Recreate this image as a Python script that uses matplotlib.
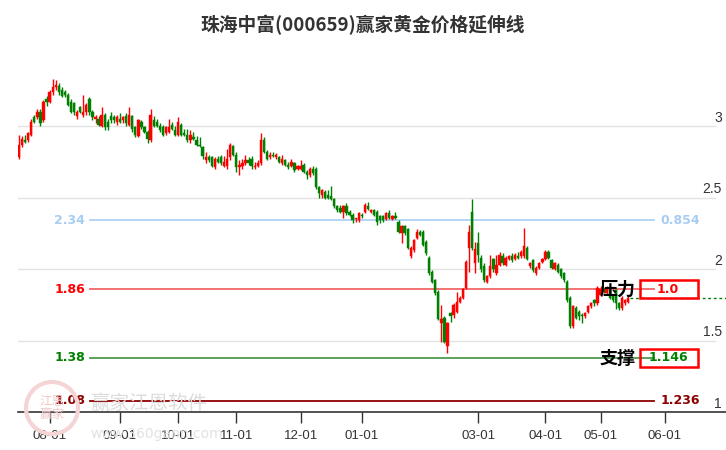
import numpy as np
import matplotlib
matplotlib.use('Agg')
import matplotlib.pyplot as plt
from matplotlib.patches import Rectangle, Circle

plt.rcParams['font.family'] = ['Noto Sans CJK SC', 'DejaVu Sans']

title = '珠海中富(000659)赢家黄金价格延伸线'

# daily candles (open / high / low / close)
opens = [
    2.78, 2.87, 2.90, 2.90, 2.94, 3.06, 3.06, 3.10, 3.04, 3.19,
    3.17, 3.24, 3.27, 3.28, 3.25, 3.24, 3.22, 3.17, 3.16, 3.07,
    3.13, 3.08, 3.10, 3.19, 3.10, 3.05, 3.05, 3.00, 3.08, 3.03,
    3.07, 3.06, 3.03, 3.05, 3.04, 3.07, 3.01, 3.07, 2.99, 2.93,
    3.03, 2.99, 2.96, 2.90, 3.04, 3.03, 3.00, 2.99, 2.95, 2.96,
    3.01, 2.97, 2.94, 3.01, 2.95, 2.94, 2.90, 2.92, 2.90, 2.87,
    2.85, 2.76, 2.78, 2.78, 2.71, 2.77, 2.78, 2.72, 2.72, 2.78,
    2.86, 2.80, 2.71, 2.72, 2.74, 2.76, 2.77, 2.71, 2.72, 2.74,
    2.90, 2.82, 2.78, 2.80, 2.78, 2.78, 2.74, 2.76, 2.73, 2.72,
    2.74, 2.70, 2.70, 2.73, 2.68, 2.66, 2.70, 2.70, 2.57, 2.52,
    2.54, 2.52, 2.51, 2.49, 2.44, 2.43, 2.40, 2.44, 2.40, 2.38,
    2.35, 2.34, 2.38, 2.40, 2.44, 2.40, 2.41, 2.40, 2.37, 2.37,
    2.35, 2.39, 2.35, 2.37, 2.33, 2.25, 2.30, 2.28, 2.09, 2.13,
    2.22, 2.26, 2.26, 2.19, 2.08, 1.98, 1.92, 1.84, 1.62, 1.66,
    1.46, 1.69, 1.68, 1.70, 1.77, 1.80, 1.87, 2.15, 2.40, 2.04,
    2.18, 2.08, 2.02, 1.91, 1.95, 2.07, 1.97, 2.03, 2.09, 2.03,
    2.07, 2.09, 2.07, 2.09, 2.09, 2.09, 2.15, 2.02, 2.06, 1.97,
    2.01, 2.05, 2.07, 2.12, 2.06, 2.00, 2.03, 2.00, 1.97, 1.91,
    1.80, 1.60, 1.73, 1.70, 1.68, 1.67, 1.70, 1.74, 1.78, 1.76,
    1.82, 1.86, 1.83, 1.85, 1.81, 1.85, 1.76, 1.73, 1.76, 1.77,
]
highs = [
    2.94, 2.93, 2.94, 2.96, 3.05, 3.08, 3.12, 3.12, 3.18, 3.21,
    3.25, 3.33, 3.32, 3.30, 3.27, 3.25, 3.23, 3.19, 3.17, 3.11,
    3.14, 3.22, 3.16, 3.20, 3.11, 3.08, 3.07, 3.13, 3.09, 3.05,
    3.10, 3.08, 3.08, 3.09, 3.07, 3.09, 3.13, 3.08, 3.00, 3.05,
    3.04, 3.00, 2.97, 3.12, 3.07, 3.05, 3.02, 3.01, 3.00, 3.05,
    3.03, 3.00, 3.06, 3.02, 2.98, 2.98, 2.97, 2.96, 2.93, 2.92,
    2.86, 2.82, 2.80, 2.79, 2.78, 2.79, 2.80, 2.79, 2.84, 2.88,
    2.87, 2.82, 2.76, 2.77, 2.80, 2.78, 2.79, 2.75, 2.76, 2.95,
    2.92, 2.83, 2.82, 2.82, 2.81, 2.79, 2.80, 2.77, 2.75, 2.77,
    2.75, 2.73, 2.76, 2.74, 2.69, 2.71, 2.72, 2.71, 2.58, 2.56,
    2.55, 2.55, 2.58, 2.50, 2.45, 2.45, 2.45, 2.46, 2.41, 2.39,
    2.36, 2.40, 2.39, 2.46, 2.47, 2.42, 2.42, 2.41, 2.38, 2.38,
    2.40, 2.41, 2.38, 2.40, 2.34, 2.31, 2.31, 2.29, 2.16, 2.21,
    2.28, 2.27, 2.27, 2.20, 2.09, 1.99, 1.93, 1.85, 1.75, 1.67,
    1.63, 1.70, 1.76, 1.84, 1.81, 1.87, 2.06, 2.31, 2.49, 2.19,
    2.26, 2.10, 2.04, 1.96, 2.10, 2.08, 2.10, 2.12, 2.11, 2.09,
    2.10, 2.11, 2.11, 2.12, 2.13, 2.29, 2.16, 2.05, 2.07, 2.02,
    2.05, 2.08, 2.13, 2.13, 2.07, 2.05, 2.04, 2.01, 1.98, 1.92,
    1.81, 1.75, 1.74, 1.71, 1.69, 1.70, 1.75, 1.77, 1.79, 1.88,
    1.88, 1.87, 1.88, 1.86, 1.82, 1.86, 1.77, 1.81, 1.79, 1.81,
]
lows = [
    2.77, 2.85, 2.88, 2.89, 2.93, 3.02, 3.05, 3.00, 3.03, 3.14,
    3.16, 3.22, 3.25, 3.22, 3.20, 3.20, 3.14, 3.09, 3.08, 3.05,
    3.09, 3.06, 3.08, 3.08, 3.04, 3.02, 3.00, 2.99, 2.97, 2.97,
    3.02, 3.02, 3.01, 3.02, 3.02, 3.00, 3.00, 2.96, 2.92, 2.92,
    2.98, 2.95, 2.88, 2.89, 2.99, 2.99, 2.96, 2.93, 2.94, 2.95,
    2.97, 2.93, 2.93, 2.93, 2.93, 2.89, 2.88, 2.90, 2.86, 2.85,
    2.77, 2.74, 2.75, 2.71, 2.70, 2.74, 2.73, 2.71, 2.70, 2.76,
    2.79, 2.68, 2.66, 2.70, 2.73, 2.73, 2.70, 2.70, 2.71, 2.73,
    2.81, 2.76, 2.77, 2.78, 2.77, 2.74, 2.73, 2.72, 2.70, 2.71,
    2.68, 2.69, 2.69, 2.67, 2.63, 2.64, 2.66, 2.56, 2.50, 2.50,
    2.49, 2.49, 2.48, 2.43, 2.40, 2.39, 2.36, 2.38, 2.37, 2.32,
    2.33, 2.33, 2.36, 2.39, 2.41, 2.39, 2.37, 2.31, 2.32, 2.33,
    2.34, 2.35, 2.34, 2.35, 2.25, 2.18, 2.24, 2.14, 2.08, 2.12,
    2.21, 2.23, 2.16, 2.10, 1.96, 1.90, 1.82, 1.64, 1.49, 1.48,
    1.41, 1.63, 1.66, 1.69, 1.76, 1.79, 1.86, 1.98, 2.13, 1.97,
    2.05, 1.98, 1.91, 1.90, 1.94, 1.98, 1.96, 2.02, 2.03, 2.02,
    2.06, 2.05, 2.06, 2.07, 2.08, 2.08, 2.06, 2.01, 1.98, 1.96,
    2.00, 2.04, 2.06, 2.07, 2.00, 1.99, 1.97, 1.94, 1.91, 1.77,
    1.59, 1.59, 1.65, 1.64, 1.62, 1.66, 1.69, 1.73, 1.74, 1.75,
    1.81, 1.83, 1.82, 1.79, 1.77, 1.72, 1.71, 1.71, 1.75, 1.76,
]
closes = [
    2.87, 2.91, 2.89, 2.95, 3.03, 3.03, 3.10, 3.02, 3.17, 3.17,
    3.24, 3.27, 3.29, 3.24, 3.21, 3.22, 3.15, 3.10, 3.10, 3.10,
    3.10, 3.10, 3.15, 3.10, 3.06, 3.06, 3.01, 3.08, 2.99, 2.99,
    3.04, 3.04, 3.06, 3.03, 3.06, 3.02, 3.08, 2.98, 2.94, 3.04,
    2.99, 2.96, 2.91, 3.08, 3.00, 3.00, 2.97, 2.94, 2.99, 2.99,
    2.98, 2.94, 3.03, 2.94, 2.94, 2.90, 2.94, 2.91, 2.87, 2.86,
    2.79, 2.78, 2.76, 2.72, 2.77, 2.75, 2.74, 2.75, 2.77, 2.87,
    2.80, 2.71, 2.73, 2.74, 2.76, 2.74, 2.72, 2.72, 2.74, 2.90,
    2.82, 2.77, 2.80, 2.79, 2.80, 2.75, 2.77, 2.73, 2.71, 2.75,
    2.69, 2.72, 2.72, 2.68, 2.66, 2.70, 2.67, 2.57, 2.53, 2.55,
    2.50, 2.50, 2.49, 2.44, 2.41, 2.40, 2.44, 2.39, 2.38, 2.34,
    2.35, 2.39, 2.37, 2.45, 2.42, 2.41, 2.38, 2.33, 2.34, 2.34,
    2.39, 2.36, 2.37, 2.36, 2.26, 2.30, 2.25, 2.15, 2.15, 2.20,
    2.26, 2.24, 2.17, 2.11, 1.97, 1.91, 1.83, 1.65, 1.65, 1.49,
    1.62, 1.67, 1.75, 1.77, 1.80, 1.86, 2.05, 2.26, 2.15, 2.14,
    2.10, 2.00, 1.92, 1.95, 2.02, 2.00, 2.03, 2.10, 2.04, 2.08,
    2.09, 2.06, 2.10, 2.08, 2.12, 2.16, 2.07, 2.04, 1.99, 2.01,
    2.04, 2.07, 2.12, 2.08, 2.01, 2.04, 1.98, 1.95, 1.92, 1.78,
    1.60, 1.74, 1.66, 1.67, 1.67, 1.69, 1.74, 1.76, 1.76, 1.87,
    1.86, 1.84, 1.87, 1.80, 1.78, 1.76, 1.73, 1.80, 1.78, 1.80,
]

tick_idx = [10, 33, 52, 71, 92, 112, 150, 172, 190, 211]
tick_labels = ['08-01', '09-01', '10-01', '11-01', '12-01', '01-01',
               '03-01', '04-01', '05-01', '06-01']

y_ticks = [1, 1.5, 2, 2.5, 3]
y_tick_labels = ['1', '1.5', '2', '2.5', '3']

# golden extension levels
levels = [2.34, 1.86, 1.38, 1.08]
level_ratios = ['0.854', '1.0', '1.146', '1.236']
level_colors = ['#a9cdf2', '#ff0000', '#008000', '#8b0000']
line_colors = ['#b0d2f4', '#f26868', '#4f9a4f', '#900000']
boxed = [False, True, True, False]

fig = plt.figure(figsize=(7.26, 4.5), dpi=100)
ax = fig.add_axes([18 / 726, 38 / 450, 708 / 726, 365 / 450])
ax.set_xlim(-0.33, 231)
ax.set_ylim(1.0, 1 + 365 / 143)

# watermark (logo + name), drawn faintly under everything
fig.patches.append(Circle((52, 42), 26, transform=None, fill=False,
                          ec='#f4d4d4', lw=3, zorder=0))
fig.text(52 / 726, 42 / 450, '江恩\n赢家', fontsize=9, color='#f0c8c8',
         ha='center', va='center', linespacing=1.0, zorder=0)
fig.text(90 / 726, 1 - 403 / 450, '赢家江恩软件', fontsize=14, color='#dcdcdc',
         ha='left', va='center', zorder=0)
fig.text(90 / 726, 1 - 434 / 450, 'www.360gann.com', fontsize=10, color='#e2e2e2',
         ha='left', va='center', family='DejaVu Sans', zorder=0)
ax.patch.set_alpha(0)

for y in y_ticks[1:]:
    ax.axhline(y, xmin=0, xmax=0.985, color='#e3e3e3', lw=1, zorder=1)

yt = ax.get_yaxis_transform()
for y, lab in zip(y_ticks, y_tick_labels):
    ax.text(0.994, y + 0.01, lab, transform=yt, ha='right', va='bottom',
            fontsize=10, color='#333333', family='Liberation Sans')

for lv, r, tc, lc, bx in zip(levels, level_ratios, level_colors, line_colors, boxed):
    ax.axhline(lv, xmin=0.102, xmax=0.898, color=lc, lw=1.3, zorder=2)
    ax.text(0.0946, lv, f'{lv:.2f}', transform=yt, ha='right', va='center',
            fontsize=9, fontweight='bold', color=tc, family='DejaVu Sans')
    if bx:
        ax.text(0.918, lv, r, transform=yt, ha='center', va='center',
                fontsize=9, fontweight='bold', color=tc, family='DejaVu Sans', zorder=6)
        ax.add_patch(Rectangle((0.879, lv - 9 / 143), 0.081, 18 / 143, transform=yt,
                               fill=False, ec='#ff0000', lw=1.8, zorder=6))
    else:
        ax.text(0.907, lv, r, transform=yt, ha='left', va='center',
                fontsize=9, fontweight='bold', color=tc, family='DejaVu Sans')

# candles
x = np.arange(len(closes))
o = np.array(opens)
h = np.array(highs)
l = np.array(lows)
c = np.array(closes)
up = c >= o
cols = np.where(up, '#ff0000', '#008000')
ax.vlines(x, l, h, colors=cols, lw=1, zorder=3)
body = np.maximum(np.abs(c - o), 0.008)
ax.bar(x, body, bottom=np.minimum(o, c), width=0.75, color=cols,
       edgecolor=cols, lw=0.3, zorder=4)

# last price extension
ax.hlines(c[-1], x[-1] + 0.5, 231, colors='#008000', lw=1, linestyles=(0, (2, 2)), zorder=3)

ax.text(195.5, 1.855, '压力', fontsize=13, fontweight='bold',
        color='black', ha='center', va='center', zorder=7)
ax.text(195.5, 1.378, '支撑', fontsize=13, fontweight='bold',
        color='black', ha='center', va='center', zorder=7)

ax.set_xticks(tick_idx)
ax.set_xticklabels(tick_labels, fontsize=9.5, color='#333333', family='Liberation Sans')
ax.tick_params(axis='x', direction='out', length=8, width=1, color='#333333', pad=5)
ax.set_yticks([])
for s in ['top', 'left', 'right']:
    ax.spines[s].set_visible(False)
ax.spines['bottom'].set_color('#333333')
ax.spines['bottom'].set_linewidth(1.2)

fig.text(0.5, 1 - 25 / 450, title, ha='center', va='center', fontsize=13.5,
         fontweight='bold', color='#333333')

fig.savefig('out.png', dpi=100)
